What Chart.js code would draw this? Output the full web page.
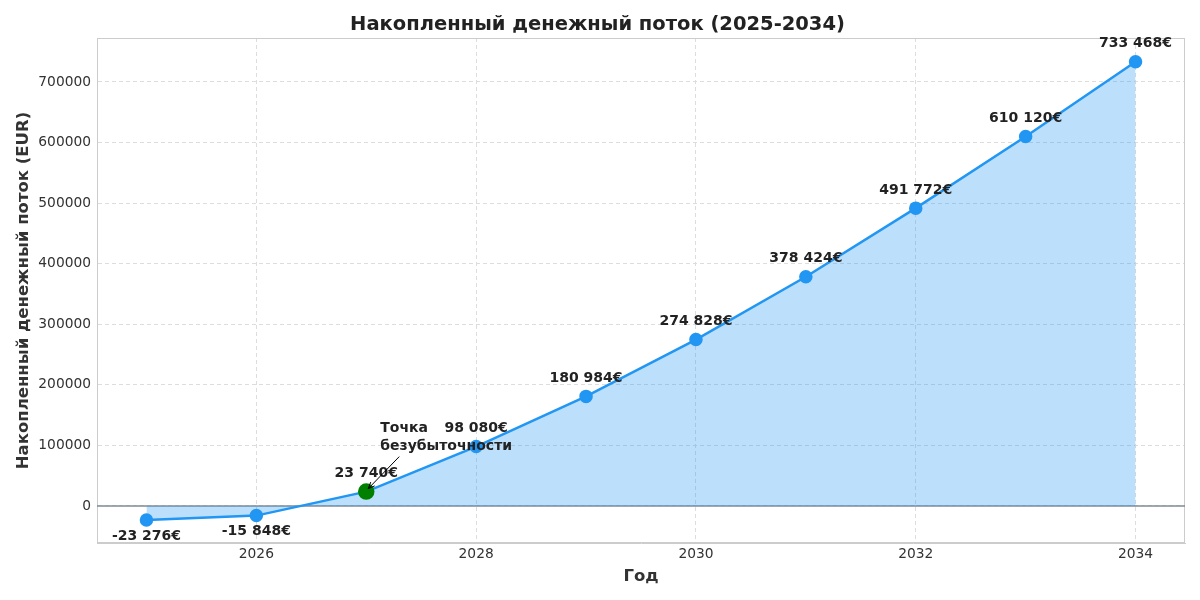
<!DOCTYPE html>
<html>
<head>
<meta charset="utf-8">
<script src="https://cdn.jsdelivr.net/npm/chart.js@4"></script>
<style>
  body { margin: 0; background: #fff; }
  canvas { display: block; }
</style>
</head>
<body>
<canvas id="cashChart" width="1200" height="600"></canvas>
<script>
const years = [2025, 2026, 2027, 2028, 2029, 2030, 2031, 2032, 2033, 2034];
const cumulative = [-23276, -15848, 23740, 98080, 180984, 274828, 378424, 491772, 610120, 733468];
const xTicks = [2026, 2028, 2030, 2032, 2034];
const yTicks = [0, 100000, 200000, 300000, 400000, 500000, 600000, 700000];
const breakEvenYear = 2027;
const breakEvenLabel = ["Точка", "безубыточности"];

function formatEuro(v) {
  const s = Math.abs(v).toString().replace(/\B(?=(\d{3})+(?!\d))/g, " ");
  return (v < 0 ? "-" : "") + s + "€";
}

const points = [];
for (let i = 0; i < years.length; i++) {
  points.push({ x: years[i], y: cumulative[i] });
}

const font = "'DejaVu Sans', sans-serif";

const labelsPlugin = {
  id: "labels",
  beforeDatasetsDraw(chart) {
    const ctx = chart.ctx;
    const a = chart.chartArea;
    const y0 = chart.scales.y.getPixelForValue(0);
    ctx.save();
    // frame round the plot
    ctx.strokeStyle = "#cccccc";
    ctx.lineWidth = 1;
    ctx.strokeRect(a.left + 0.5, a.top + 0.5, a.right - a.left - 1, a.bottom - a.top - 1);
    // zero line
    ctx.strokeStyle = "#808a94";
    ctx.lineWidth = 1.5;
    ctx.beginPath();
    ctx.moveTo(a.left, y0);
    ctx.lineTo(a.right, y0);
    ctx.stroke();
    ctx.restore();
  },
  afterDatasetsDraw(chart) {
    const ctx = chart.ctx;
    const xs = chart.scales.x;
    const ys = chart.scales.y;
    ctx.save();
    ctx.font = "bold 14px " + font;
    ctx.fillStyle = "#222222";
    ctx.textAlign = "center";
    ctx.textBaseline = "middle";
    for (let i = 0; i < years.length; i++) {
      const px = xs.getPixelForValue(years[i]);
      const py = ys.getPixelForValue(cumulative[i]);
      const dy = cumulative[i] < 0 ? 16 : -18;
      ctx.fillText(formatEuro(cumulative[i]), px, py + dy);
    }

    // break-even annotation
    const bi = years.indexOf(breakEvenYear);
    const bx = xs.getPixelForValue(breakEvenYear);
    const by = ys.getPixelForValue(cumulative[bi]);
    ctx.textAlign = "left";
    ctx.fillText(breakEvenLabel[0], bx + 14, by - 63);
    ctx.fillText(breakEvenLabel[1], bx + 14, by - 45);
    const sx = bx + 33, sy = by - 35;
    const ex = bx + 2, ey = by - 3;
    ctx.strokeStyle = "#000";
    ctx.lineWidth = 1;
    ctx.beginPath();
    ctx.moveTo(sx, sy);
    ctx.lineTo(ex, ey);
    ctx.stroke();
    const ang = Math.atan2(ey - sy, ex - sx);
    ctx.beginPath();
    ctx.moveTo(ex - 7 * Math.cos(ang - 0.4), ey - 7 * Math.sin(ang - 0.4));
    ctx.lineTo(ex, ey);
    ctx.lineTo(ex - 7 * Math.cos(ang + 0.4), ey - 7 * Math.sin(ang + 0.4));
    ctx.stroke();
    ctx.restore();
  },
};

const pointColors = years.map(y => (y === breakEvenYear ? "#008000" : "#2196F3"));
const pointRadius = years.map(y => (y === breakEvenYear ? 7 : 5.5));

new Chart(document.querySelector("#cashChart").getContext("2d"), {
  type: "line",
  data: {
    datasets: [{
      data: points,
      borderColor: "#2196F3",
      backgroundColor: "rgba(33, 150, 243, 0.3)",
      borderWidth: 2.5,
      fill: "origin",
      tension: 0,
      pointBackgroundColor: pointColors,
      pointBorderColor: pointColors,
      pointRadius: pointRadius,
      pointHoverRadius: pointRadius,
      clip: false,
    }],
  },
  options: {
    responsive: false,
    animation: false,
    layout: { padding: { left: 10, right: 15, top: 0, bottom: 9 } },
    plugins: {
      legend: { display: false },
      tooltip: { enabled: false },
      title: {
        display: true,
        text: "Накопленный денежный поток (2025-2034)",
        color: "#222222",
        font: { family: font, size: 19.5, weight: "bold" },
        padding: { top: 13, bottom: 1.6 },
      },
    },
    scales: {
      x: {
        type: "linear",
        min: 2024.55,
        max: 2034.45,
        afterBuildTicks(scale) {
          scale.ticks = xTicks.map(v => ({ value: v }));
        },
        afterFit(scale) {
          scale.height = 48;
        },
        ticks: {
          color: "#333333",
          font: { family: font, size: 13.8 },
          padding: 3,
          callback: v => String(v),
        },
        grid: {
          color: "#dddddd",
          drawTicks: false,
        },
        border: { color: "#cccccc", dash: [4, 3] },
        title: {
          display: true,
          text: "Год",
          color: "#333333",
          font: { family: font, size: 16.5, weight: "bold" },
          padding: { top: 4 },
        },
      },
      y: {
        min: -61085,
        max: 772641,
        afterBuildTicks(scale) {
          scale.ticks = yTicks.map(v => ({ value: v }));
        },
        afterFit(scale) {
          scale.width = 87;
        },
        ticks: {
          color: "#333333",
          font: { family: font, size: 13.8 },
          padding: 6,
          callback: v => String(v),
        },
        grid: {
          color: "#dddddd",
          drawTicks: false,
        },
        border: { color: "#cccccc", dash: [4, 3] },
        title: {
          display: true,
          text: "Накопленный денежный поток (EUR)",
          color: "#333333",
          font: { family: font, size: 16.5, weight: "bold" },
          padding: { bottom: 4 },
        },
      },
    },
  },
  plugins: [labelsPlugin],
});
</script>
</body>
</html>
